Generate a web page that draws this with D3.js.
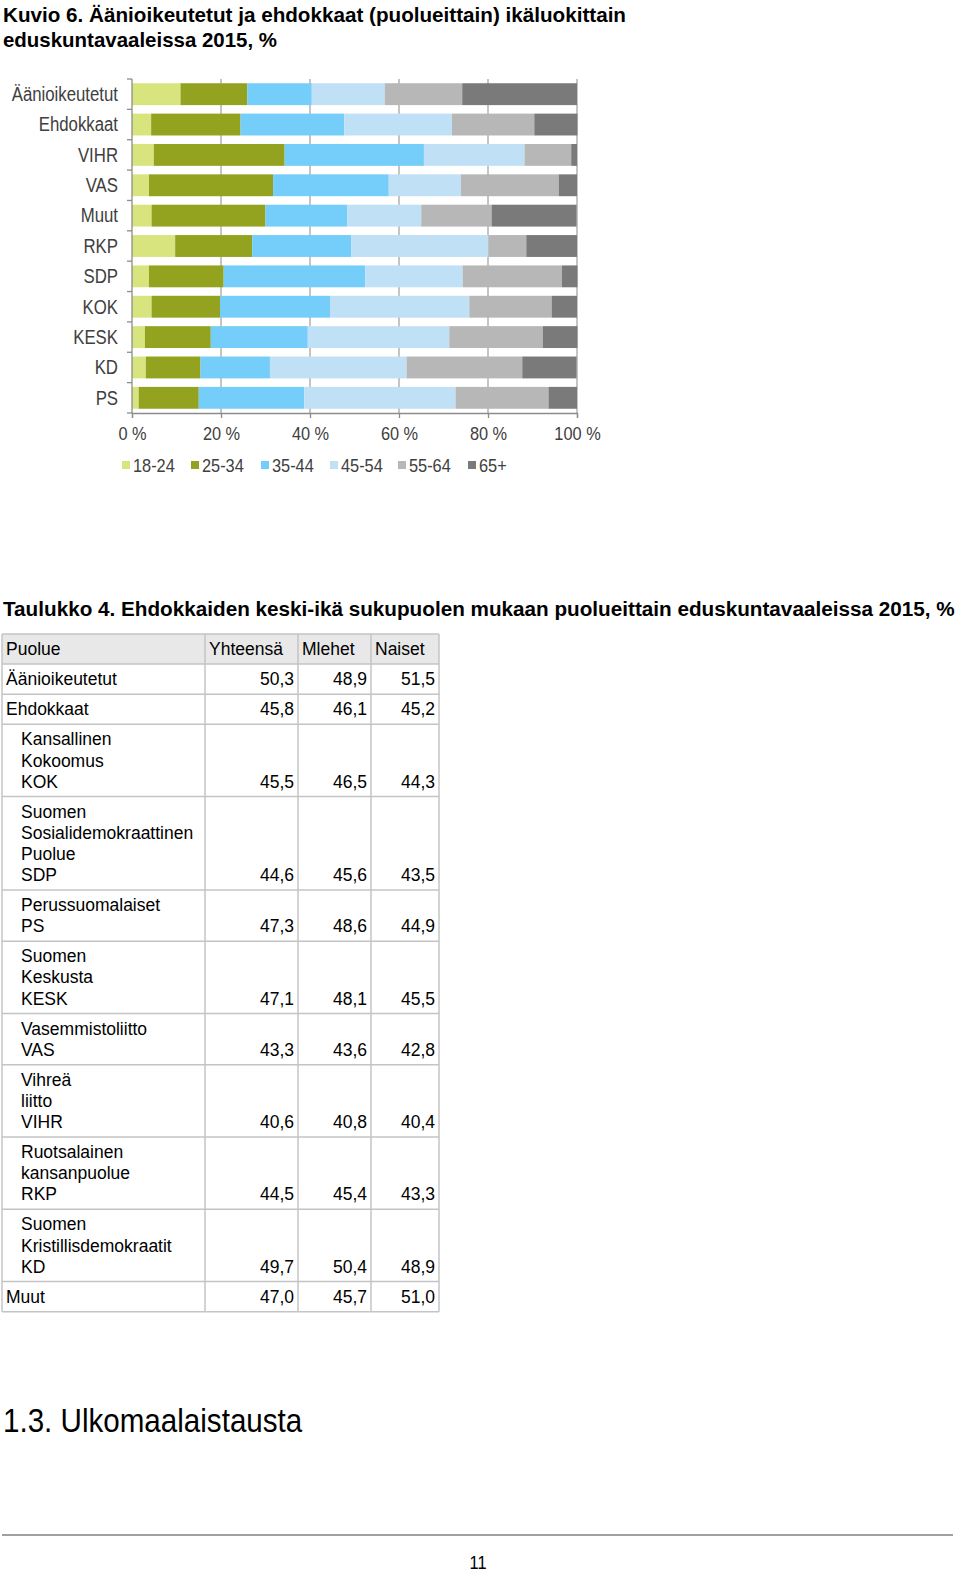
<!DOCTYPE html>
<html>
<head>
<meta charset="utf-8">
<script src="https://cdn.jsdelivr.net/npm/d3@7"></script>
<style>
  html, body { margin: 0; padding: 0; background: #fff; }
  svg { display: block; }
  text { font-family: "Liberation Sans", Arial, sans-serif; }
</style>
</head>
<body>
<div id="chart"></div>
<script>
// ---------- Chart data ----------
const categories = ["Äänioikeutetut", "Ehdokkaat", "VIHR", "VAS", "Muut", "RKP", "SDP", "KOK", "KESK", "KD", "PS"];
const ageGroups = ["18-24", "25-34", "35-44", "45-54", "55-64", "65+"];
const age18_24 = [10.9, 4.3, 4.9, 3.8, 4.4, 9.7, 3.8, 4.4, 2.9, 3.1, 1.5];
const age25_34 = [15.0, 20.1, 29.4, 27.9, 25.6, 17.3, 16.8, 15.4, 14.8, 12.3, 13.5];
const age35_44 = [14.5, 23.3, 31.3, 26.0, 18.4, 22.3, 31.8, 24.7, 21.8, 15.6, 23.7];
const age45_54 = [16.4, 24.2, 22.6, 16.2, 16.6, 30.8, 21.9, 31.3, 31.8, 30.7, 34.0];
const age55_64 = [17.4, 18.5, 10.5, 22.0, 15.8, 8.5, 22.3, 18.5, 21.0, 26.0, 20.9];
const age65plus = [25.8, 9.7, 1.3, 4.1, 19.1, 11.4, 3.5, 5.7, 7.8, 12.2, 6.4];
const xTicks = [0, 20, 40, 60, 80, 100];
const seriesColors = ["#d8e57f", "#93a31f", "#75cdf9", "#c0e0f6", "#b7b7b7", "#7a7a7a"];

// ---------- Table data ----------
const tableHeaders = ["Puolue", "Yhteensä", "Mlehet", "Naiset"];
const tableNames = [
  ["Äänioikeutetut"], ["Ehdokkaat"],
  ["Kansallinen", "Kokoomus", "KOK"],
  ["Suomen", "Sosialidemokraattinen", "Puolue", "SDP"],
  ["Perussuomalaiset", "PS"],
  ["Suomen", "Keskusta", "KESK"],
  ["Vasemmistoliitto", "VAS"],
  ["Vihreä", "liitto", "VIHR"],
  ["Ruotsalainen", "kansanpuolue", "RKP"],
  ["Suomen", "Kristillisdemokraatit", "KD"],
  ["Muut"]
];
const tableIndented = [false, false, true, true, true, true, true, true, true, true, false];
const tableTotal = ["50,3", "45,8", "45,5", "44,6", "47,3", "47,1", "43,3", "40,6", "44,5", "49,7", "47,0"];
const tableMen   = ["48,9", "46,1", "46,5", "45,6", "48,6", "48,1", "43,6", "40,8", "45,4", "50,4", "45,7"];
const tableWomen = ["51,5", "45,2", "44,3", "43,5", "44,9", "45,5", "42,8", "40,4", "43,3", "48,9", "51,0"];

const W = 960, H = 1576;
const svg = d3.select("#chart").append("svg").attr("width", W).attr("height", H);

// Arial-Narrow look: compress Liberation Sans horizontally
function narrow(sel, factor) {
  sel.each(function () {
    const w = this.getComputedTextLength();
    d3.select(this).attr("textLength", w * (factor || 0.86)).attr("lengthAdjust", "spacingAndGlyphs");
  });
}

// ---------- Titles ----------
svg.append("text").attr("x", 3).attr("y", 22)
  .attr("font-size", 21).attr("font-weight", "bold").attr("fill", "#000")
  .text("Kuvio 6. Äänioikeutetut ja ehdokkaat (puolueittain) ikäluokittain")
  .attr("textLength", 623).attr("lengthAdjust", "spacingAndGlyphs");
svg.append("text").attr("x", 3).attr("y", 47)
  .attr("font-size", 21).attr("font-weight", "bold").attr("fill", "#000")
  .text("eduskuntavaaleissa 2015, %")
  .attr("textLength", 274).attr("lengthAdjust", "spacingAndGlyphs");

// ---------- Chart ----------
const x = d3.scaleLinear().domain([0, 100]).range([132, 577]);
const y = d3.scaleBand().domain(categories).range([79, 413]).paddingInner(0.28).paddingOuter(0.14);
const plotTop = 79, plotBottom = 413;

const series = [age18_24, age25_34, age35_44, age45_54, age55_64, age65plus];
const rows = categories.map((c, i) => {
  const o = { cat: c };
  ageGroups.forEach((g, j) => o[g] = series[j][i]);
  return o;
});
const stacked = d3.stack().keys(ageGroups)(rows);

const g = svg.append("g");
g.selectAll(".grid").data(xTicks.filter(t => t > 0)).join("line")
  .attr("x1", d => x(d)).attr("x2", d => x(d))
  .attr("y1", plotTop).attr("y2", plotBottom)
  .attr("stroke", "#a6a6a6").attr("stroke-width", 1.3);

g.selectAll(".layer").data(stacked).join("g")
  .attr("fill", (d, i) => seriesColors[i])
  .selectAll("rect").data(d => d).join("rect")
  .attr("x", d => x(d[0]))
  .attr("width", d => x(d[1]) - x(d[0]))
  .attr("y", d => y(d.data.cat))
  .attr("height", y.bandwidth());

g.append("line").attr("x1", x(0)).attr("x2", x(0)).attr("y1", plotTop).attr("y2", plotBottom)
  .attr("stroke", "#8c8c8c").attr("stroke-width", 1.3);
g.selectAll(".ytick").data(d3.range(categories.length + 1)).join("line")
  .attr("x1", x(0) - 5).attr("x2", x(0))
  .attr("y1", i => plotTop + (plotBottom - plotTop) * i / categories.length)
  .attr("y2", i => plotTop + (plotBottom - plotTop) * i / categories.length)
  .attr("stroke", "#8c8c8c").attr("stroke-width", 1.3);

const xAxis = d3.axisBottom(x).tickValues(xTicks).tickFormat(d => d + " %").tickSize(5).tickPadding(9);
const ax = svg.append("g").attr("transform", `translate(0,${plotBottom})`).call(xAxis);
ax.attr("font-family", null).attr("font-size", null);
ax.select(".domain").attr("stroke", "#8c8c8c").attr("stroke-width", 1.3);
ax.selectAll(".tick line").attr("stroke", "#8c8c8c").attr("stroke-width", 1.3);
ax.selectAll(".tick text").attr("font-size", 19).attr("fill", "#404040").call(narrow);

svg.selectAll(".catlab").data(categories).join("text")
  .attr("x", 118).attr("y", d => y(d) + y.bandwidth() / 2)
  .attr("dy", "0.35em").attr("text-anchor", "end")
  .attr("font-size", 19.5).attr("fill", "#404040")
  .text(d => d).call(narrow);

const legendX = [122, 191, 261, 330, 398, 468];
const lg = svg.selectAll(".leg").data(ageGroups).join("g")
  .attr("transform", (d, i) => `translate(${legendX[i]},465)`);
lg.append("rect").attr("x", 0).attr("y", -4).attr("width", 8).attr("height", 8)
  .attr("fill", (d, i) => seriesColors[i]);
lg.append("text").attr("x", 11).attr("y", 0).attr("dy", "0.35em")
  .attr("font-size", 19).attr("fill", "#404040").text(d => d).call(narrow);

// ---------- Table ----------
svg.append("text").attr("x", 3).attr("y", 616)
  .attr("font-size", 20.7).attr("font-weight", "bold").attr("fill", "#000")
  .text("Taulukko 4. Ehdokkaiden keski-ikä sukupuolen mukaan puolueittain eduskuntavaaleissa 2015, %");

const colX = [2, 205, 298, 371, 439];
const lineH = 21.1;
const rowH = n => 9 + lineH * n;
const tableTop = 634;
const fs = 17.5;
const tg = svg.append("g");

const allRows = [{ header: true, lines: 1 }].concat(tableNames.map((n, i) => ({ header: false, lines: n.length, i })));
let yy = tableTop;
allRows.forEach(r => { r.top = yy; r.h = rowH(r.lines); yy += r.h; });
const tableBottom = yy;

tg.append("rect").attr("x", colX[0]).attr("y", tableTop).attr("width", colX[4] - colX[0]).attr("height", allRows[0].h)
  .attr("fill", "#e8e8e8");

tg.selectAll(".hdr").data(tableHeaders).join("text")
  .attr("x", (d, i) => colX[i] + 4).attr("y", tableTop + 21)
  .attr("font-size", fs).attr("fill", "#000").text(d => d);

allRows.slice(1).forEach(r => {
  const i = r.i;
  const lines = tableNames[i];
  const tx = tableIndented[i] ? 21 : 6;
  lines.forEach((ln, k) => {
    tg.append("text").attr("x", tx).attr("y", r.top + lineH * (k + 1))
      .attr("font-size", fs).attr("fill", "#000").text(ln);
  });
  const by = r.top + lineH * lines.length;
  [tableTotal[i], tableMen[i], tableWomen[i]].forEach((v, c) => {
    tg.append("text").attr("x", colX[c + 2] - 4).attr("y", by).attr("text-anchor", "end")
      .attr("font-size", fs).attr("fill", "#000").text(v);
  });
});

allRows.concat([{ top: tableBottom }]).forEach(r => {
  tg.append("line").attr("x1", colX[0]).attr("x2", colX[4]).attr("y1", r.top).attr("y2", r.top)
    .attr("stroke", "#c4c4c4").attr("stroke-width", 1.5);
});
colX.forEach(cx => {
  tg.append("line").attr("x1", cx).attr("x2", cx).attr("y1", tableTop).attr("y2", tableBottom)
    .attr("stroke", "#c4c4c4").attr("stroke-width", 1.5);
});

// ---------- Section heading & footer ----------
svg.append("text").attr("x", 3).attr("y", 1432)
  .attr("font-size", 34).attr("fill", "#000").text("1.3. Ulkomaalaistausta").call(narrow, 0.87);
svg.append("line").attr("x1", 2).attr("x2", 953).attr("y1", 1535).attr("y2", 1535)
  .attr("stroke", "#808080").attr("stroke-width", 1.5);
svg.append("text").attr("x", 478).attr("y", 1569).attr("text-anchor", "middle")
  .attr("font-size", 19).attr("fill", "#000").text("11").call(narrow);
</script>
</body>
</html>
